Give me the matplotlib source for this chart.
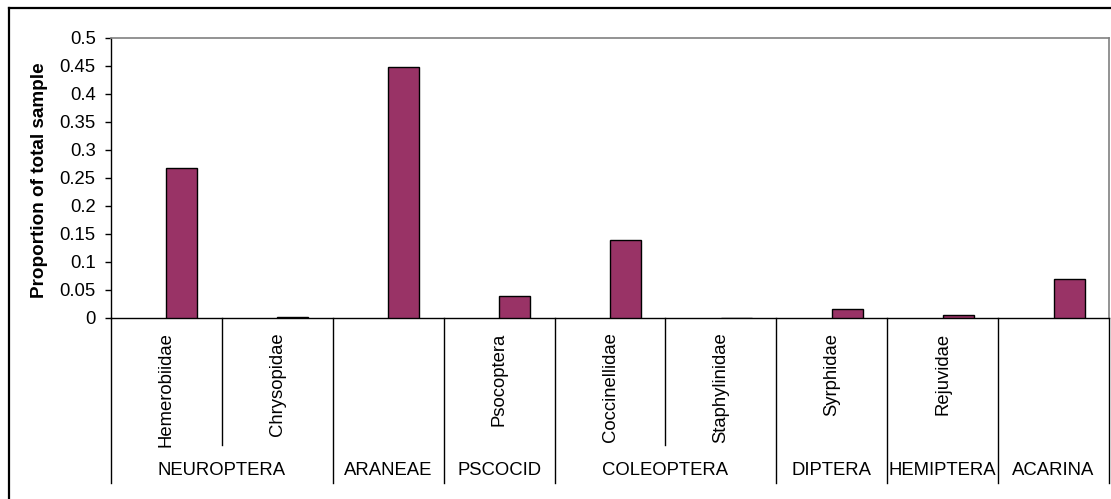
import numpy as np
import matplotlib.pyplot as plt
from matplotlib.lines import Line2D
from matplotlib.ticker import FuncFormatter

plt.rcParams['font.family'] = ['Liberation Sans', 'DejaVu Sans']

# Families under each order (empty where the order has no sub-label)
families = ['Hemerobiidae', 'Chrysopidae', '', 'Psocoptera', 'Coccinellidae',
            'Staphylinidae', 'Syrphidae', 'Rejuvidae', '']
proportions = [0.268, 0.0025, 0.448, 0.039, 0.139, 0.0, 0.0155, 0.0055, 0.069]

# Orders and how many family slots each spans
orders = ['NEUROPTERA', 'ARANEAE', 'PSCOCID', 'COLEOPTERA', 'DIPTERA', 'HEMIPTERA', 'ACARINA']
order_spans = [2, 1, 1, 2, 1, 1, 1]

W, H = 1111, 499
fig = plt.figure(figsize=(W / 100, H / 100), dpi=100)
ax = fig.add_axes([111 / W, 1 - 318 / H, 998 / W, 280 / H])

x = np.arange(len(families))
ax.bar(x + 0.5, proportions, width=0.28, align='edge', color='#993366',
       edgecolor='black', linewidth=1.0, zorder=3)

ax.set_xlim(0, len(families))
ax.set_ylim(0, 0.5)
ax.set_yticks(np.arange(0, 0.501, 0.05))
ax.yaxis.set_major_formatter(FuncFormatter(lambda v, p: f'{round(v, 2):g}'))
ax.tick_params(axis='y', direction='out', length=4, width=1, pad=7,
               labelsize=13.3, colors='black')
ax.set_xticks([])

for side in ['top', 'right']:
    ax.spines[side].set_color('#808080')
    ax.spines[side].set_linewidth(1.2)
ax.spines['left'].set_linewidth(1.0)
ax.spines['bottom'].set_linewidth(1.0)

fig.text(40 / W, 1 - 180 / H, 'Proportion of total sample', rotation=90,
         ha='center', va='center', fontsize=13.6, fontweight='bold')

# Two-level category axis below the plot
trans = ax.get_xaxis_transform()
inner_bottom = -0.454
outer_bottom = -0.589

for i, name in enumerate(families):
    if name:
        ax.text(i + 0.5, -0.052, name, rotation=90, ha='center', va='top',
                fontsize=13.3, transform=trans)

bounds = np.concatenate([[0], np.cumsum(order_spans)])
for lo, hi, name in zip(bounds[:-1], bounds[1:], orders):
    ax.text((lo + hi) / 2, -0.543, name, ha='center', va='center',
            fontsize=13.3, transform=trans)
    for k in range(lo + 1, hi):
        ax.plot([k, k], [0, inner_bottom], color='black', lw=1.0,
                transform=trans, clip_on=False)
for b in bounds:
    ax.plot([b, b], [0, outer_bottom], color='black', lw=1.0,
            transform=trans, clip_on=False)

# Outer chart frame
fig.add_artist(Line2D([8.5 / W, 8.5 / W], [1 - 8 / H, 0], color='black', lw=1.6))
fig.add_artist(Line2D([8.5 / W, 1], [1 - 8 / H, 1 - 8 / H], color='black', lw=1.6))

fig.savefig('out.png', dpi=100)
